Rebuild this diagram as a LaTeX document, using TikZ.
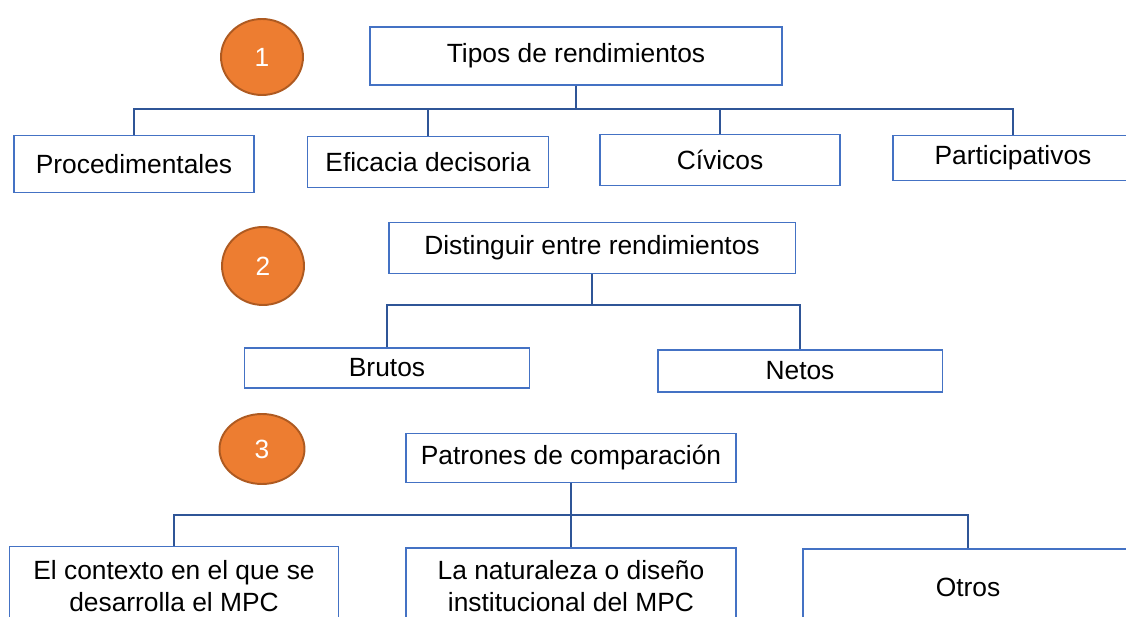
\documentclass[tikz,border=0pt]{standalone}
\usepackage{fontspec}
\setmainfont{Liberation Sans}
\usepackage{xcolor}
\usepackage{tikz}
\usetikzlibrary{shapes.geometric}
\usetikzlibrary{positioning}

\definecolor{boxblue}{HTML}{4472C4}
\definecolor{lineblue}{HTML}{2F5597}
\definecolor{numorange}{HTML}{ED7D31}
\definecolor{numedge}{HTML}{AE5A21}

\begin{document}
\begin{tikzpicture}[x=0.02cm, y=-0.02cm,
        box/.style={draw=boxblue, line width=1.1pt, fill=white, inner sep=0pt, align=center,
            font=\fontsize{15}{18}\selectfont},
        num/.style={ellipse, draw=numedge, line width=1.1pt, fill=numorange, text=white,
            minimum width=1.64cm, minimum height=1.52cm, font=\fontsize{15}{18}\selectfont},
        link/.style={draw=lineblue, line width=1.1pt}
    ]
            \useasboundingbox (0,0) rectangle (1126,617);
            \clip (0,0) rectangle (1126,617);

            % 1
            \node[num] (n1) at (262,57) {1};
            \node[box, minimum width=8.24cm, minimum height=1.16cm] (tipos) at (576,56) {Tipos de rendimientos};
            \node[box, minimum width=4.8cm, minimum height=1.14cm] (proc) at (134,164) {Procedimentales};
            \node[box, minimum width=4.82cm, minimum height=1.02cm] (efic) at (428,162) {Eficacia decisoria};
            \node[box, minimum width=4.8cm, minimum height=1.02cm] (civ) at (720,160) {Cívicos};
            \node[box, minimum width=4.8cm, minimum height=0.9cm] (part) at (1013,158) {Participativos};

            \foreach \c in {proc,efic,civ,part}
                \draw[link] (tipos.south) -- ++(0,23) -| (\c.north);

            % 2
            \node[num, minimum width=1.64cm, minimum height=1.56cm] (n2) at (263,266) {2};
            \node[box, minimum width=8.14cm, minimum height=1.02cm] (dist) at (592,248) {Distinguir entre rendimientos};
            \node[box, minimum width=5.7cm, minimum height=0.8cm] (brutos) at (387,368) {Brutos};
            \node[box, minimum width=5.7cm, minimum height=0.84cm] (netos) at (800,371) {Netos};

            \foreach \c in {brutos,netos}
                \draw[link] (dist.south) -- ++(0,31) -| (\c.north);

            % 3
            \node[num, minimum width=1.7cm, minimum height=1.4cm] (n3) at (262,449) {3};
            \node[box, minimum width=6.6cm, minimum height=0.98cm] (patrones) at (571,458) {Patrones de comparación};
            \node[box, minimum width=6.58cm, minimum height=1.58cm] (contexto) at (174,586) {El contexto en el que se\\desarrolla el MPC};
            \node[box, minimum width=6.6cm, minimum height=1.52cm] (natur) at (571,586) {La naturaleza o diseño\\institucional del MPC};
            \node[box, minimum width=6.6cm, minimum height=1.52cm] (otros) at (968,587) {Otros};

            \foreach \c in {contexto,natur,otros}
                \draw[link] (patrones.south) -- ++(0,32) -| (\c.north);
        \end{tikzpicture}
\end{document}
